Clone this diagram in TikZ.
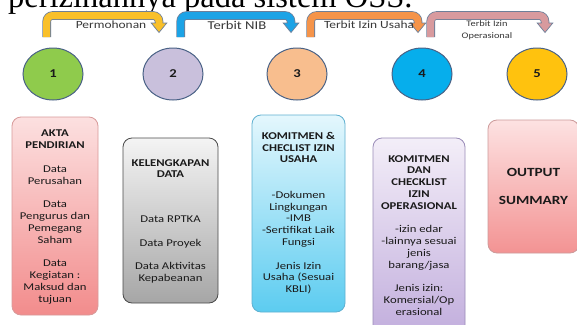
\documentclass[tikz,border=0pt]{standalone}
\usepackage{fontspec}
\setmainfont{Carlito}[FakeStretch=1.22]
\newfontfamily\topserif{Liberation Serif}
\usetikzlibrary{shapes.geometric}
\definecolor{arrline}{HTML}{6D7F99}
\definecolor{aYellow}{HTML}{F9C02A}
\definecolor{aBlue}{HTML}{1CA3E6}
\definecolor{aOrange}{HTML}{F5944A}
\definecolor{aPink}{HTML}{D89A9E}
\definecolor{circline}{HTML}{4A6286}
\definecolor{cGreen}{HTML}{8FCB4C}
\definecolor{cLav}{HTML}{C9C0DC}
\definecolor{cPeach}{HTML}{F8BE8E}
\definecolor{cCyan}{HTML}{06AEEC}
\definecolor{cGold}{HTML}{FFC20E}
\definecolor{txt}{HTML}{1A1A1A}
\definecolor{lbl}{HTML}{383838}
\definecolor{bOneTop}{HTML}{FCE0E0}
\definecolor{bOneBot}{HTML}{F28C8C}
\definecolor{bOneLine}{HTML}{D89A9A}
\definecolor{bTwoTop}{HTML}{F4F4F4}
\definecolor{bTwoBot}{HTML}{A6A6A6}
\definecolor{bTwoLine}{HTML}{4A4A4A}
\definecolor{bThreeTop}{HTML}{E4F7FD}
\definecolor{bThreeBot}{HTML}{5CCCF0}
\definecolor{bThreeLine}{HTML}{5FB0D0}
\definecolor{bFourTop}{HTML}{F3EEF8}
\definecolor{bFourBot}{HTML}{C2AEDD}
\definecolor{bFourLine}{HTML}{9A8CB8}
\definecolor{bFiveTop}{HTML}{FDE2E2}
\definecolor{bFiveBot}{HTML}{F39393}
\definecolor{bFiveLine}{HTML}{CC9A9A}
\newcommand\bentarr[3]{%
  \draw[line width=8.6pt, color=arrline, rounded corners=6pt] (#1+3.7,37) -- (#1+3.7,15.5) -- (#2,15.5) -- (#2,23);
  \draw[line width=7pt, color=#3, rounded corners=6pt] (#1+3.7,37) -- (#1+3.7,15.5) -- (#2,15.5) -- (#2,23);
  \fill[#3] (#2-7.8,23) -- (#2+7.8,23) -- (#2,32.5) -- cycle;
  \draw[arrline, line width=0.7pt, line join=miter] (#2-3.5,23) -- (#2-7.8,23) -- (#2,32.5) -- (#2+7.8,23) -- (#2+3.5,23);
}
\begin{document}
\begin{tikzpicture}[x=1pt,y=-1pt,
  circ/.style={ellipse, draw=circline, line width=1pt, minimum width=60pt, minimum height=52pt, inner sep=0pt, font=\bfseries\fontsize{12}{12}\selectfont, text=txt},
  box/.style={rectangle, rounded corners=9pt, line width=0.8pt, inner sep=0pt},
  boxtext/.style={anchor=north, align=center, inner sep=0pt, text=txt, font=\fontsize{10.4}{11.8}\selectfont},
  arrlabel/.style={inner sep=0pt, text=lbl, font=\fontsize{11}{12}\selectfont}]
\useasboundingbox (0,0) rectangle (577,324);
\clip (0,0) rectangle (577,324);
\fill[white] (0,0) rectangle (577,324);

% cropped heading line
\node[anchor=base west, inner sep=0pt, font=\topserif\fontsize{32.5}{36}\selectfont] (toptext) at (8,8) {perizinannya pada sistem OSS.};

% bent arrows
\bentarr{43}{159}{aYellow}
\bentarr{177}{291}{aBlue}
\bentarr{307}{418}{aOrange}
\bentarr{427}{545}{aPink}
\node[arrlabel] (l1) at (111,25) {Permohonan};
\node[arrlabel, font=\fontsize{12}{12}\selectfont] (l2) at (237,25) {Terbit NIB};
\node[arrlabel] (l3) at (369,25) {Terbit Izin Usaha};
\node[arrlabel, align=center, font=\fontsize{8.5}{12}\selectfont] (l4) at (487,30) {Terbit Izin\\Operasional};

% circles
\node[circ, fill=cGreen] (c1) at (53,74) {1};
\node[circ, fill=cLav] (c2) at (173,74) {2};
\node[circ, fill=cPeach] (c3) at (297,74) {3};
\node[circ, fill=cCyan] (c4) at (422,74) {4};
\node[circ, fill=cGold] (c5) at (537,74) {5};

% boxes
\node[box, draw=bOneLine, top color=bOneTop, bottom color=bOneBot, minimum width=86pt, minimum height=198pt] (b1) at (55,216) {};
\node[box, draw=bTwoLine, top color=bTwoTop, bottom color=bTwoBot, minimum width=95pt, minimum height=165pt] (b2) at (170.5,220.5) {};
\node[box, draw=bThreeLine, top color=bThreeTop, bottom color=bThreeBot, minimum width=93pt, minimum height=197pt] (b3) at (298.5,213.5) {};
\node[box, draw=bFourLine, top color=bFourTop, bottom color=bFourBot, minimum width=92pt, minimum height=197pt] (b4) at (419,236.5) {};
\node[box, draw=bFiveLine, top color=bFiveTop, bottom color=bFiveBot, minimum width=91pt, minimum height=133pt] (b5) at (533.5,186.5) {};

% box texts
\node[boxtext] (t1) at (55,130) {\textbf{AKTA}\\\textbf{PENDIRIAN}\\[11.8pt]Data\\Perusahan\\[11.8pt]Data\\Pengurus dan\\Pemegang\\Saham\\[11.8pt]Data\\Kegiatan :\\Maksud dan\\tujuan};
\node[boxtext] (t2) at (170.5,159) {\textbf{KELENGKAPAN}\\\textbf{DATA}\\[33pt]Data RPTKA\\[11.8pt]Data Proyek\\[11.8pt]Data Aktivitas\\Kepabeanan};
\node[boxtext] (t3) at (298.5,132) {\textbf{KOMITMEN \&}\\\textbf{CHECLIST IZIN}\\\textbf{USAHA}\\[23.6pt]-Dokumen\\Lingkungan\\-IMB\\-Sertifikat Laik\\Fungsi\\[11.8pt]Jenis Izin\\Usaha (Sesuai\\KBLI)};
\node[boxtext] (t4) at (419,155) {\textbf{KOMITMEN}\\\textbf{DAN}\\\textbf{CHECKLIST}\\\textbf{IZIN}\\\textbf{OPERASIONAL}\\[11.8pt]-izin edar\\-lainnya sesuai\\jenis\\barang/jasa\\[11.8pt]Jenis izin:\\Komersial/Op\\erasional};
\node[boxtext, font=\bfseries\fontsize{12.5}{28}\selectfont] (t5) at (533.5,168.5) {OUTPUT\\SUMMARY};
\end{tikzpicture}
\end{document}
